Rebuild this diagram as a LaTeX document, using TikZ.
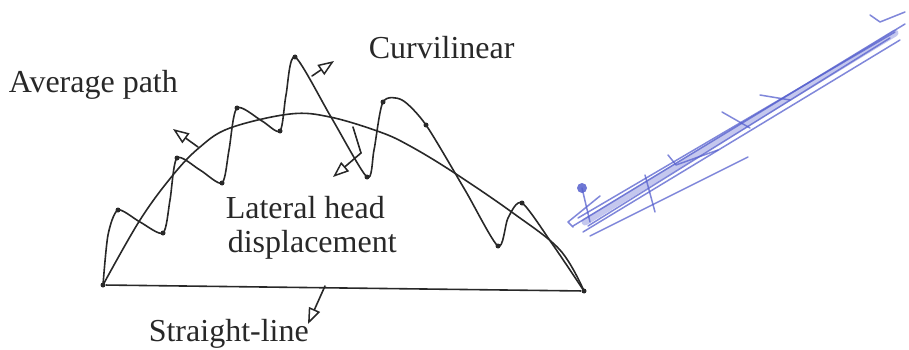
\documentclass[tikz,border=0pt]{standalone}
\usepackage{fontspec}
\setmainfont{Liberation Serif}
\usetikzlibrary{arrows.meta}
\definecolor{ink}{RGB}{40,40,40}
\definecolor{pen}{RGB}{85,95,205}
\begin{document}
\begin{tikzpicture}[x=1pt,y=-1pt, line width=1.6pt, line join=round, line cap=round, draw=ink,
  lbl/.style={font=\fontsize{32}{36}\selectfont, inner sep=0pt, anchor=base west, text=ink},
  dotm/.style={circle, fill=ink, inner sep=0pt, minimum size=5pt},
  openarrow/.style={-{Triangle[open,length=16pt,width=12pt,line width=1.5pt]}},
  penline/.style={draw=pen, line width=1.5pt, opacity=0.75},
  penband/.style={draw=pen, line width=7pt, opacity=0.35}]
\useasboundingbox (0,0) rectangle (909,350);

% end points and dots of the curvilinear path
\node[dotm] (s)  at (103,285) {};
\node[dotm] (e)  at (584,291) {};
\node[dotm] (c1) at (118,210) {};
\node[dotm] (c2) at (163,233) {};
\node[dotm] (c3) at (177,158) {};
\node[dotm] (c4) at (222,183) {};
\node[dotm] (c5) at (237,108) {};
\node[dotm] (c6) at (280,131) {};
\node[dotm] (c7) at (295,57) {};
\node[dotm] (c8) at (367,177) {};
\node[dotm] (c9) at (383,102) {};
\node[dotm] (c10) at (426,125) {};
\node[dotm] (c11) at (498,246) {};
\node[dotm] (c12) at (522,203) {};

% straight line
\draw (s) -- (e);

% average path (arc)
\draw plot[smooth, tension=0.6] coordinates {(s) (140,220) (173,175) (200,147) (230,128) (290,114) (330,117) (380,132) (410,146) (453,172) (513,213) (560,250) (e)};

% curvilinear path
\draw plot[smooth, tension=0.45] coordinates {(s) (108,235) (c1) (140,222) (c2) (170,200) (c3) (200,170) (c4) (229,150) (c5) (262,121) (c6) (286,95) (c7) (331,117) (c8) (374,150) (c9) (402,100) (c10) (465,190) (c11) (508,218) (c12) (553,245) (e)};

% lateral head displacement
\coordinate (d1) at (353,127);
\coordinate (d2) at (361,153);
\coordinate (t3) at (333,177);
\draw (d1) -- (d2);
\draw[openarrow] (d2) -- (t3);

% label arrows
\coordinate (a1) at (198,147);
\coordinate (t1) at (173,129);
\draw[openarrow] (a1) -- (t1);
\coordinate (a2) at (312,76);
\coordinate (t2) at (334,61);
\draw[openarrow] (a2) -- (t2);
\coordinate (a4) at (325,286);
\coordinate (t4) at (308,324);
\draw[openarrow] (a4) -- (t4);

% labels
\node[lbl] (lavg) at (8,93) {Average path};
\node[lbl] (lcur) at (368,59) {Curvilinear};
\node[lbl] (llat) at (225,218) {Lateral head};
\node[lbl] (ldis) at (227,252) {displacement};
\node[lbl] (lstr) at (148,341) {Straight-line};

% blue pen scribble
\draw[penband] (585,222) -- (895,33);
\draw[penline] (573,226) -- (905,24);
\draw[penline] (578,218) -- (895,32);
\draw[penline] (583,232) -- (900,40);
\draw[penline] (588,226) -- (890,38);
\draw[penline] (590,236) -- (748,157);
\draw[penline] (573,227) -- (568,222) -- (600,196);
\draw[penline] (645,175) -- (655,212);
\draw[penline] (668,155) -- (676,165) -- (718,150);
\draw[penline] (722,112) -- (750,128);
\draw[penline] (760,95) -- (790,100);
\draw[penline] (870,15) -- (880,22) -- (905,12);
\fill[pen, opacity=0.85] (582,188) circle (5pt);
\draw[penline] (582,188) -- (590,222);
\end{tikzpicture}
\end{document}
